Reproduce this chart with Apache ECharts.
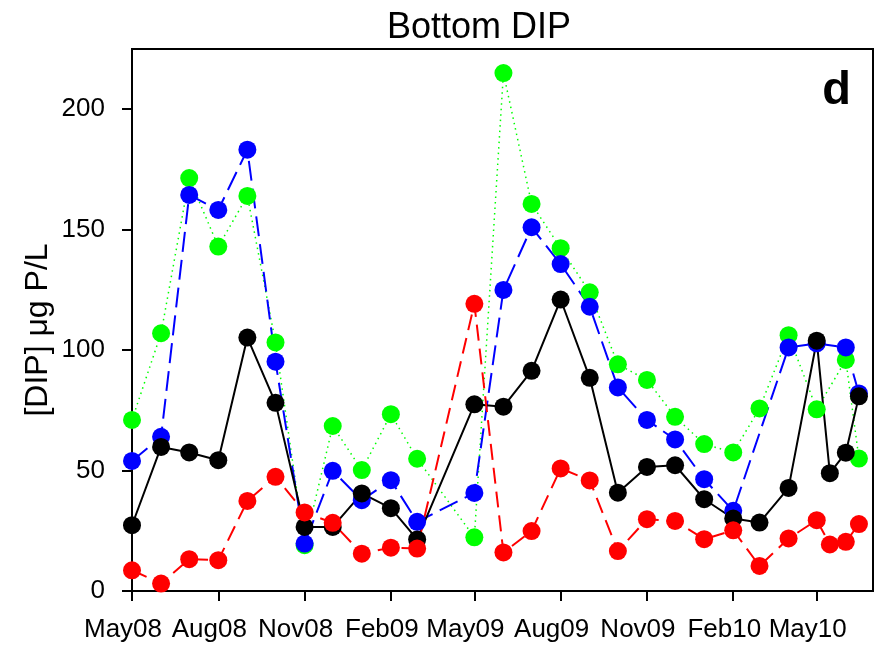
<!DOCTYPE html>
<html>
<head>
<meta charset="utf-8">
<script src="https://cdn.jsdelivr.net/npm/echarts@6/dist/echarts.min.js"></script>
<style>html,body{margin:0;padding:0;background:#fff}#c{width:879px;height:647px}</style>
</head>
<body>
<div id="c"></div>
<script>
// Sampling dates
const dates = ['2008-05-01','2008-06-01','2008-07-01','2008-08-01','2008-09-01','2008-10-01','2008-11-01','2008-12-01',
  '2009-01-01','2009-02-01','2009-03-01','2009-05-01','2009-06-01','2009-07-01','2009-08-01','2009-09-01','2009-10-01',
  '2009-11-01','2009-12-01','2010-01-01','2010-02-01','2010-03-01','2010-04-01','2010-05-01','2010-05-15','2010-06-01','2010-06-15'];
// Series values (null = no sample)
const greenVals = [71, 107, 171.4, 143, 164, 103.2, 19, 68.5, 50.2, 73.4, 54.9, 22.3, 215, 160.7, 142.3, 124, 94.1,
  87.6, 72.3, 61, 57.5, 75.8, 106.2, 75.4, null, 95.9, 55];
const blueVals = [54, 64, 164.4, 158.2, 183.2, 95.2, 19.7, 49.9, 37.7, 46, 28.7, 40.7, 125, 151, 135.7, 118, 84.5,
  71, 62.9, 46.4, 33.3, null, 101.1, 102.8, null, 101.1, 82];
const blackVals = [27.3, 59.8, 57.5, 54.3, 105.2, 78.1, 26.6, 26.6, 40.5, 34.4, 21.4, 77.5, 76.5, 91.4, 121, 88.5, 40.8,
  51.5, 52.2, 38.1, 30.1, 28.4, 42.8, 103.9, 48.9, 57.4, 80.8];
const redVals = [8.6, 3.1, 13.2, 12.8, 37.4, 47.4, 32.6, 28.3, 15.5, 18, 17.6, 119.2, 16, 24.9, 50.9, 45.9, 16.6,
  29.8, 29.1, 21.5, 25.2, 10.4, 21.8, 29.4, 19.3, 20.4, 27.8];
// Axis ticks
const tickDates = ['2008-05-01','2008-08-01','2008-11-01','2009-02-01','2009-05-01','2009-08-01','2009-11-01','2010-02-01','2010-05-01'];
const tickLabels = ['May08','Aug08','Nov08','Feb09','May09','Aug09','Nov09','Feb10','May10'];
const yTicks = [0, 50, 100, 150, 200];

const ts = s => { const p = s.split('-').map(Number); return Date.UTC(p[0], p[1]-1, p[2]); };
const tickTs = tickDates.map(ts);
const mk = vals => dates.map((d, i) => [ts(d), vals[i] == null ? '-' : vals[i]]);

const FONT = '"Liberation Sans", Arial, sans-serif';
const chart = echarts.init(document.getElementById('c'), null, {renderer: 'canvas'});
const line = (name, vals, color, type, width) => ({
  name, type: 'line', data: mk(vals), connectNulls: true,
  symbol: 'circle', symbolSize: 18,
  itemStyle: {color: color},
  lineStyle: {color: color, width: width, type: type},
  emphasis: {disabled: true}
});
chart.setOption({
  animation: false,
  backgroundColor: '#fff',
  title: {
    text: 'Bottom DIP', left: 382, top: 5,
    textStyle: {fontFamily: FONT, fontSize: 36, fontWeight: 'normal', color: '#000'}
  },
  grid: {left: 132, right: 6, top: 49, bottom: 56, show: true, borderColor: '#000', borderWidth: 2, backgroundColor: 'transparent'},
  xAxis: {
    type: 'value', min: ts('2008-05-01'), max: ts('2010-06-30'),
    axisLine: {show: true, onZero: false, lineStyle: {color: '#000', width: 2}},
    axisTick: {show: true, length: 10, inside: false, lineStyle: {color: '#000', width: 2}, customValues: tickTs},
    axisLabel: {
      customValues: tickTs, margin: 26, color: '#000', fontFamily: FONT, fontSize: 26,
      padding: [0, 18, 0, 0],
      formatter: v => { const i = tickTs.indexOf(v); return i >= 0 ? tickLabels[i] : ''; }
    },
    splitLine: {show: false}
  },
  yAxis: {
    type: 'value', min: 0, max: 225,
    axisLine: {show: true, lineStyle: {color: '#000', width: 2}},
    axisTick: {show: true, length: 10, inside: false, lineStyle: {color: '#000', width: 2}, customValues: yTicks},
    axisLabel: {customValues: yTicks, margin: 27, color: '#000', fontFamily: FONT, fontSize: 26},
    splitLine: {show: false}
  },
  graphic: [
    {type: 'text', x: 38, y: 330, rotation: Math.PI / 2,
     style: {text: '[DIP] μg P/L', fontFamily: FONT, fontSize: 32, fill: '#000', align: 'center', verticalAlign: 'middle'}},
    {type: 'text', x: 851, y: 68,
     style: {text: 'd', fontFamily: FONT, fontSize: 47, fontWeight: 'bold', fill: '#000', align: 'right', verticalAlign: 'top'}}
  ],
  series: [
    line('green', greenVals, '#00ff00', [1.5, 4], 1.5),
    line('blue', blueVals, '#0000ff', [20, 8], 2),
    line('black', blackVals, '#000000', 'solid', 2),
    line('red', redVals, '#ff0000', [16, 8], 2)
  ]
});
</script>
</body>
</html>
